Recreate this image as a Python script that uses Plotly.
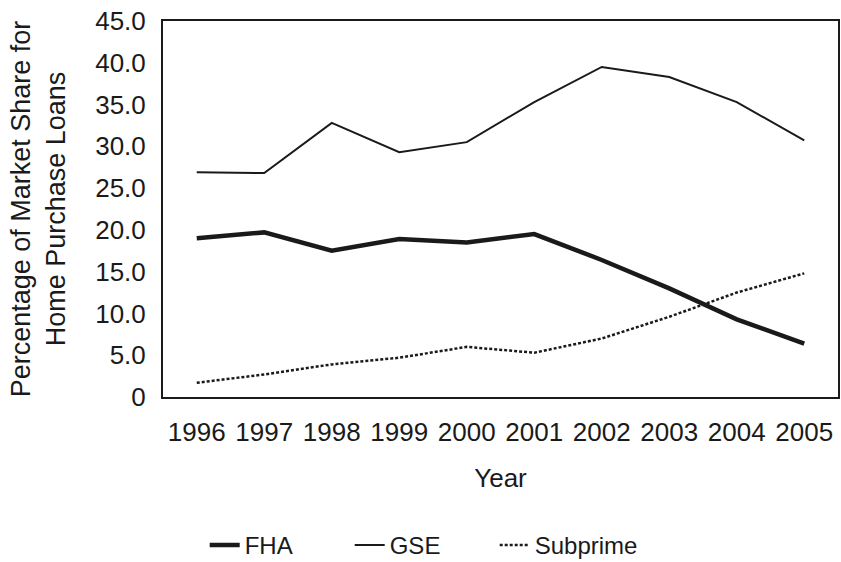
import plotly.graph_objects as go

years = [1996, 1997, 1998, 1999, 2000, 2001, 2002, 2003, 2004, 2005]
fha = [19.0, 19.7, 17.5, 18.9, 18.5, 19.5, 16.4, 13.0, 9.3, 6.4]
gse = [26.9, 26.8, 32.8, 29.3, 30.5, 35.3, 39.5, 38.3, 35.3, 30.7]
subprime = [1.7, 2.7, 3.9, 4.7, 6.0, 5.3, 7.0, 9.6, 12.5, 14.8]

y_tickvals = [0, 5, 10, 15, 20, 25, 30, 35, 40, 45]
y_ticktext = ["0", "5.0", "10.0", "15.0", "20.0", "25.0", "30.0", "35.0", "40.0", "45.0"]

FONT = "Liberation Sans, Arial, sans-serif"
INK = "#1a1a1a"

fig = go.Figure()
fig.add_trace(go.Scatter(x=years, y=fha, name="FHA", mode="lines",
                         line=dict(color=INK, width=4.5)))
fig.add_trace(go.Scatter(x=years, y=gse, name="GSE", mode="lines",
                         line=dict(color=INK, width=2)))
fig.add_trace(go.Scatter(x=years, y=subprime, name="Subprime", mode="lines",
                         line=dict(color=INK, width=2.5, dash="3px,2px")))

fig.update_layout(
    width=841, height=562,
    margin=dict(l=163, r=3, t=21, b=165, autoexpand=False),
    paper_bgcolor="white", plot_bgcolor="white",
    font=dict(family=FONT, size=26, color=INK),
    showlegend=True,
    legend=dict(orientation="h", x=0.384, xanchor="center", y=-0.395, yanchor="middle",
                font=dict(size=24, color=INK), entrywidth=100, traceorder="normal",
                tracegroupgap=0),
)
fig.update_xaxes(
    range=[1995.5, 2005.5], tickmode="array", tickvals=years,
    ticktext=[str(y) for y in years],
    showgrid=False, zeroline=False, automargin=False,
    showline=True, linecolor=INK, linewidth=2, mirror=True,
    ticks="", ticklabelstandoff=11,
    tickfont=dict(size=26),
    title=dict(text="Year", standoff=23, font=dict(size=26)),
)
fig.update_yaxes(
    range=[0, 45], tickmode="array", tickvals=y_tickvals, ticktext=y_ticktext,
    showgrid=False, zeroline=False, automargin=False,
    showline=True, linecolor=INK, linewidth=2, mirror=True,
    ticks="", ticklabelstandoff=10,
    tickfont=dict(size=26),
    title=dict(text="Percentage of Market Share for<br>Home Purchase Loans",
               standoff=22, font=dict(size=27)),
)

fig.write_html("out.html", config={"displayModeBar": False},
               post_script="document.body.style.margin='0';")
